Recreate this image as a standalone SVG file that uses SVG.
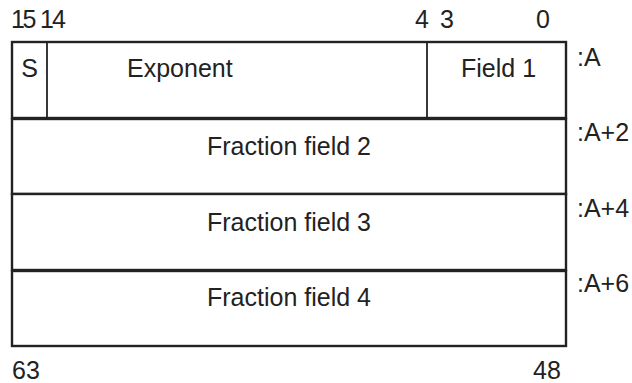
<svg xmlns="http://www.w3.org/2000/svg" width="632" height="383" viewBox="0 0 632 383">
<style>
.t{font-family:"Liberation Sans",Arial,sans-serif;font-size:25px;fill:#222}
.c{text-anchor:middle}
.box{fill:#fff;stroke:#222;stroke-width:2.4}
.div{stroke:#222;stroke-width:1.8}
</style>
<rect width="632" height="383" fill="#fff"/>
<g id="bits-top">
<text class="t" x="11" y="28" letter-spacing="-2.5">15</text>
<text class="t" x="40" y="28" letter-spacing="-2">14</text>
<text class="t" x="415" y="28">4</text>
<text class="t" x="440" y="28">3</text>
<text class="t" x="536" y="28">0</text>
</g>
<g id="row1">
<rect class="box" x="12" y="42" width="554" height="76"/>
<line class="div" x1="47" y1="42" x2="47" y2="118"/>
<line class="div" x1="427" y1="42" x2="427" y2="118"/>
<text class="t c" x="29.5" y="77">S</text>
<text class="t" x="127" y="77">Exponent</text>
<text class="t" x="461" y="77">Field 1</text>
</g>
<g id="row2">
<rect class="box" x="12" y="119" width="554" height="75"/>
<text class="t c" x="289" y="155">Fraction field 2</text>
</g>
<g id="row3">
<rect class="box" x="12" y="194" width="554" height="76"/>
<text class="t c" x="289" y="231">Fraction field 3</text>
</g>
<g id="row4">
<rect class="box" x="12" y="271" width="554" height="75"/>
<text class="t c" x="289" y="306">Fraction field 4</text>
</g>
<g id="addr">
<text class="t" x="577" y="66">:A</text>
<text class="t" x="577" y="141">:A+2</text>
<text class="t" x="577" y="217">:A+4</text>
<text class="t" x="577" y="292">:A+6</text>
</g>
<g id="bits-bottom">
<text class="t" x="12" y="379">63</text>
<text class="t" x="533" y="379">48</text>
</g>
</svg>
